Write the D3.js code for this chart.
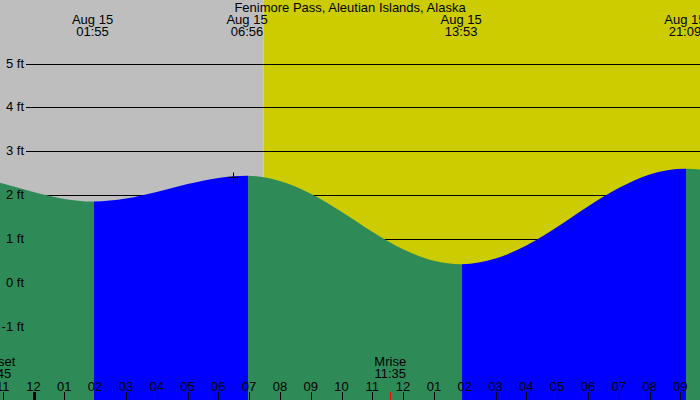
<!DOCTYPE html>
<html>
<head>
<meta charset="utf-8">
<script src="https://cdn.jsdelivr.net/npm/d3@7"></script>
<style>
  body { margin: 0; background: #fff; }
  text { font-family: "Liberation Sans", Arial, sans-serif; font-size: 13px; fill: #000; }
</style>
</head>
<body>
<script>
// hours since midnight Aug 15
var tideTimes   = [-1.1, -1, 0, 1, 1.917, 3, 4, 5, 6, 6.933, 8, 9, 10, 11, 12, 13, 13.883, 15, 16, 17, 18, 19, 20, 21.15, 21.8];
var tideHeights = [2.28, 2.26, 2.07, 1.91, 1.85, 1.92, 2.07, 2.25, 2.39, 2.44, 2.32, 2.03, 1.62, 1.16, 0.76, 0.50, 0.42, 0.55, 0.85, 1.27, 1.74, 2.16, 2.47, 2.60, 2.57];

var extremeTimes  = [1.917, 6.933, 13.883, 21.15];
var extremeLabels = ["01:55", "06:56", "13:53", "21:09"];
var extremeDates  = ["Aug 15", "Aug 15", "Aug 15", "Aug 15"];

var feetTicks = [-1, 0, 1, 2, 3, 4, 5];
var hourTicks = d3.range(-1, 22);
var hourLabels = ["11","12","01","02","03","04","05","06","07","08","09","10","11",
                  "12","01","02","03","04","05","06","07","08","09"];

var sunsetTime = -1.25, sunsetLabel = "22:45";
var sunriseTime = 7.467;
var moonriseTime = 11.583, moonriseLabel = "11:35";
var nowTime = 6.48, nowHeight = 2.42;

var width = 700, height = 400;

var x = d3.scaleLinear().domain([-33.5 / 30.8, (width - 33.5) / 30.8]).range([0, width]);
var y = d3.scaleLinear().domain([-1, 5]).range([326.5, 63.5]);

var svg = d3.select("body").append("svg")
    .attr("width", width)
    .attr("height", height);

// night / day
svg.append("rect").attr("x", 0).attr("y", 0)
    .attr("width", x(sunriseTime)).attr("height", height)
    .attr("fill", "#bebebe");
svg.append("rect").attr("x", x(sunriseTime)).attr("y", 0)
    .attr("width", width - x(sunriseTime)).attr("height", height)
    .attr("fill", "#cccc00");

// grid lines
svg.selectAll("line.grid")
    .data(feetTicks.filter(function(d) { return d > 0; }))
  .enter().append("line")
    .attr("class", "grid")
    .attr("x1", 26).attr("x2", width)
    .attr("y1", function(d) { return Math.round(y(d)) + 0.5; })
    .attr("y2", function(d) { return Math.round(y(d)) + 0.5; })
    .attr("stroke", "#000");

var tide = tideTimes.map(function(t, i) { return [t, tideHeights[i]]; });

var area = d3.area()
    .x(function(d) { return x(d[0]); })
    .y0(height)
    .y1(function(d) { return y(d[1]); })
    .curve(d3.curveMonotoneX);

// segments between extremes: rising blue, falling green
var bounds = [tideTimes[0]].concat(extremeTimes, [tideTimes[tideTimes.length - 1]]);
var defs = svg.append("defs");
for (var i = 0; i < bounds.length - 1; i++) {
  var x0 = i == 0 ? 0 : Math.round(x(bounds[i])) + 1,
      x1 = i == bounds.length - 2 ? width : Math.round(x(bounds[i + 1])) + 1;
  defs.append("clipPath").attr("id", "seg" + i)
    .append("rect")
      .attr("x", x0).attr("y", 0)
      .attr("width", x1 - x0).attr("height", height);
  svg.append("path")
      .datum(tide)
      .attr("d", area)
      .attr("clip-path", "url(#seg" + i + ")")
      .attr("fill", i % 2 == 1 ? "#0000ff" : "#2e8b57");
}

// title
svg.append("text")
    .attr("x", 350).attr("y", 12)
    .attr("text-anchor", "middle")
    .text("Fenimore Pass, Aleutian Islands, Alaska");

// extreme labels
var ext = svg.selectAll("g.ext")
    .data(extremeTimes)
  .enter().append("g")
    .attr("transform", function(d) { return "translate(" + x(d) + ",0)"; });
ext.append("text").attr("y", 24).attr("text-anchor", "middle")
    .text(function(d, i) { return extremeDates[i]; });
ext.append("text").attr("y", 36).attr("text-anchor", "middle")
    .text(function(d, i) { return extremeLabels[i]; });

// feet labels
svg.selectAll("text.ft")
    .data(feetTicks)
  .enter().append("text")
    .attr("x", 24)
    .attr("y", function(d) { return y(d) + 4; })
    .attr("text-anchor", "end")
    .text(function(d) { return d + " ft"; });

// hour ticks
svg.selectAll("line.hr")
    .data(hourTicks)
  .enter().append("line")
    .attr("x1", function(d) { return Math.round(x(d)) + 0.5; })
    .attr("x2", function(d) { return Math.round(x(d)) + 0.5; })
    .attr("y1", 392).attr("y2", height)
    .attr("stroke", "#000")
    .attr("stroke-width", function(d) { return d == 0 ? 3 : 1; });
svg.selectAll("text.hr")
    .data(hourTicks)
  .enter().append("text")
    .attr("x", function(d) { return x(d); })
    .attr("y", 391)
    .attr("text-anchor", "middle")
    .text(function(d, i) { return hourLabels[i]; });

// sun / moon events
svg.append("text").attr("x", x(sunsetTime)).attr("y", 366).attr("text-anchor", "middle").text("Sunset");
svg.append("text").attr("x", x(sunsetTime)).attr("y", 378).attr("text-anchor", "middle").text(sunsetLabel);
svg.append("text").attr("x", x(moonriseTime)).attr("y", 366).attr("text-anchor", "middle").text("Mrise");
svg.append("text").attr("x", x(moonriseTime)).attr("y", 378).attr("text-anchor", "middle").text(moonriseLabel);
svg.append("line")
    .attr("x1", Math.round(x(moonriseTime)) + 0.5).attr("x2", Math.round(x(moonriseTime)) + 0.5)
    .attr("y1", 392).attr("y2", height)
    .attr("stroke", "#ff0000");

// current time marker
var nx = Math.round(x(nowTime)) + 0.5, ny = Math.round(y(nowHeight)) + 0.5;
svg.append("path")
    .attr("d", "M" + (nx - 5) + "," + ny + "H" + (nx + 5) + "M" + nx + "," + (ny - 5) + "V" + (ny + 5))
    .attr("stroke", "#000");
</script>
</body>
</html>
